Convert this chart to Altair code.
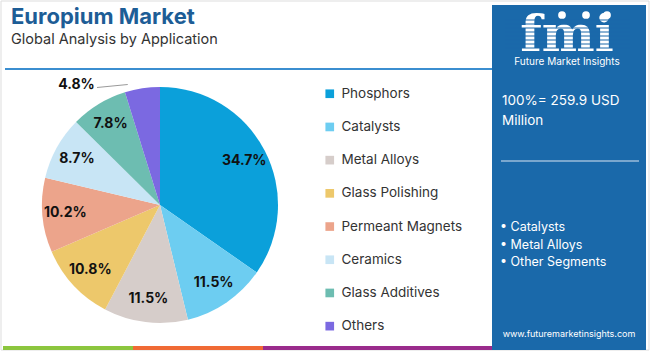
import math
import altair as alt
import pandas as pd

# ---------------- data ----------------
categories = ["Phosphors", "Catalysts", "Metal Alloys", "Glass Polishing",
              "Permeant Magnets", "Ceramics", "Glass Additives", "Others"]
shares = [34.7, 11.5, 11.5, 10.8, 10.2, 8.7, 7.8, 4.8]
colors = ["#0ba0da", "#6dcdf1", "#d6cdca", "#edc86b",
          "#eca48b", "#c8e5f5", "#6dbdb1", "#7b69e1"]
outside_label = "Others"

title_text = "Europium Market"
subtitle_text = "Global Analysis by Application"
total_lines = ["100%= 259.9 USD", "Million"]
panel_points = ["• Catalysts", "• Metal Alloys", "• Other Segments"]
brand_name = "Future Market Insights"
website = "www.futuremarketinsights.com"

# ---------------- layout constants ----------------
W, H = 650, 351
CX, CY, R = 160, 205, 118
FONT = "Inter"
PANEL = "#1a69aa"

labels = [f"{v}%" for v in shares]
df = pd.DataFrame({
    "category": categories,
    "share": shares,
    "order": list(range(len(categories))),
    "inner": [l if c != outside_label else "" for c, l in zip(categories, labels)],
    "outer": [l if c == outside_label else "" for c, l in zip(categories, labels)],
})

one = pd.DataFrame({"k": [0]})

theta = alt.Theta("share:Q", stack=True)
order = alt.Order("order:Q")

pie = alt.Chart(df).mark_arc(radius=R).encode(
    theta=theta,
    order=order,
    x=alt.value(CX), y=alt.value(CY),
    color=alt.Color("category:N",
                    scale=alt.Scale(domain=categories, range=colors),
                    sort=categories,
                    legend=alt.Legend(title=None, orient="none",
                                      legendX=323, legendY=87,
                                      symbolType="square", symbolSize=75,
                                      symbolStrokeWidth=0,
                                      labelFont=FONT, labelFontSize=13.5,
                                      labelColor="#333333", labelOffset=5,
                                      rowPadding=18.2, padding=0,
                                      labelLimit=200)),
)

inner_text = alt.Chart(df).mark_text(
    radius=95, font=FONT, fontSize=14, fontWeight="bold", color="#111111"
).encode(theta=theta, order=order, x=alt.value(CX), y=alt.value(CY), text="inner:N")

outer_text = alt.Chart(df).mark_text(
    radius=130, font=FONT, fontSize=14, fontWeight="bold", color="#111111",
    dx=-64, dy=9
).encode(theta=theta, order=order, x=alt.value(CX), y=alt.value(CY), text="outer:N")

# leader line for the outside label, derived from the slice's start angle
idx = categories.index(outside_label)
start_frac = sum(shares[:idx]) / sum(shares)
ang = 2 * math.pi * start_frac
ex = CX + (R + 4) * math.sin(ang) + 4
ey = CY - (R + 4) * math.cos(ang) - 4
leader = alt.Chart(one).mark_rule(color="#9a9a9a", strokeWidth=1).encode(
    x=alt.value(97), y=alt.value(ey + 3), x2=alt.value(ex), y2=alt.value(ey))

def rect(x1, y1, x2, y2, fill):
    return alt.Chart(one).mark_rect(color=fill).encode(
        x=alt.value(x1), y=alt.value(y1), x2=alt.value(x2), y2=alt.value(y2))

def text(s, x, y, size, color, weight="normal", align="left", font=FONT,
         baseline="middle"):
    return alt.Chart(one).mark_text(
        align=align, baseline=baseline, font=font, fontSize=size,
        fontWeight=weight, color=color
    ).encode(x=alt.value(x), y=alt.value(y), text=alt.value(s))

border = alt.Chart(one).mark_rect(fill="white", stroke="#dddddd", strokeWidth=1).encode(
    x=alt.value(1), y=alt.value(1), x2=alt.value(649), y2=alt.value(350))

blue_line = alt.Chart(one).mark_rule(color="#3b8ed0", strokeWidth=2).encode(
    x=alt.value(5), x2=alt.value(492), y=alt.value(69))

strip = [rect(3, 346, 133, 350, "#8cc63e"),
         rect(133, 346, 263, 350, "#f06a35"),
         rect(263, 346, 493, 350, "#9a2b8c")]

panel = rect(492, 5, 646, 350, PANEL)

logo = [text("fmi", 567, 51, 50, "white", "bold", "center", "DejaVu Serif",
             baseline="alphabetic")]
stripes = [alt.Chart(one).mark_rule(color=PANEL, strokeWidth=1.2).encode(
    x=alt.value(505), x2=alt.value(630), y=alt.value(yy)) for yy in range(20, 52, 4)]
globes = alt.Chart(pd.DataFrame({"gx": [562, 586, 607]})).mark_point(
    filled=True, color="white", size=60, opacity=1).encode(
    x=alt.X("gx:Q", scale=None), y=alt.value(15))
brand = text(brand_name, 567, 62, 10, "white", "normal", "center")

sep = alt.Chart(one).mark_rule(color="#d9e6f2", strokeWidth=1.2).encode(
    x=alt.value(501), x2=alt.value(639), y=alt.value(161))

panel_texts = [text(total_lines[0], 502, 101, 13.5, "white"),
               text(total_lines[1], 502, 121, 13.5, "white")]
panel_texts += [text(p, 500, 227 + 17.5 * i, 12.5, "white") for i, p in enumerate(panel_points)]
panel_texts.append(text(website, 569, 334, 9, "white", "normal", "center"))

title = text(title_text, 11, 17, 22, "#1d5d96", "bold")
subtitle = text(subtitle_text, 11, 39.5, 14.5, "#333333")

chart = alt.layer(
    border, blue_line, *strip, panel, *logo, *stripes, globes, brand, sep,
    *panel_texts, title, subtitle, pie, inner_text, outer_text, leader
).properties(
    width=W, height=H, autosize=alt.AutoSizeParams(type="none"),
    padding=0, background="white"
).configure_view(stroke=None)

chart.save("out.html", embed_options={"renderer": "svg", "actions": False})
